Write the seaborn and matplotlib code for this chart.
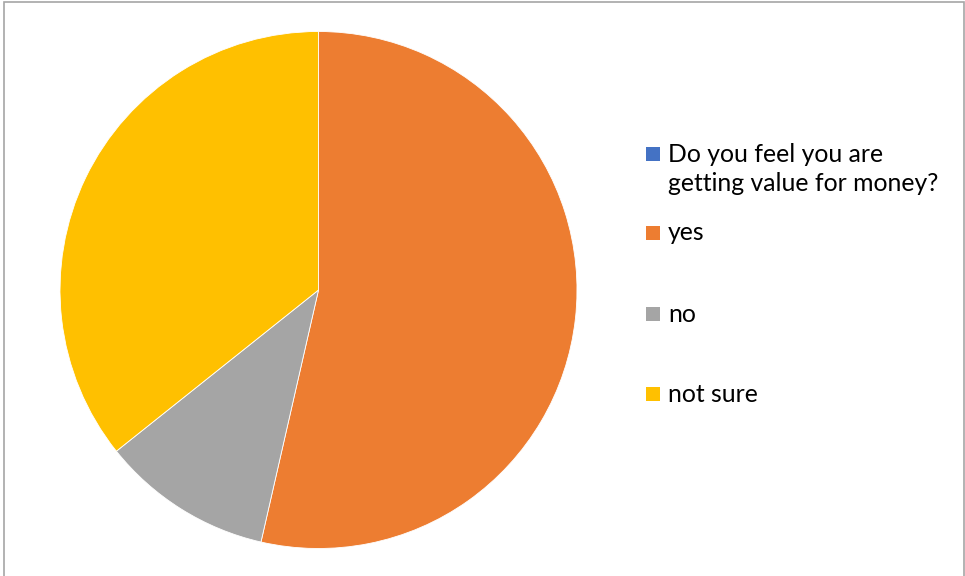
import matplotlib
matplotlib.use("Agg")
import matplotlib.pyplot as plt
from matplotlib.patches import Rectangle
import seaborn as sns

# Survey answers
categories = ["Do you feel you are\ngetting value for money?", "yes", "no", "not sure"]
counts = [0, 15, 3, 10]
colors = ["#4472C4", "#ED7D31", "#A5A5A5", "#FFC000"]

sns.set_theme(style="white")
plt.rcParams["font.family"] = ["Lato", "DejaVu Sans"]

W, H = 965, 576
fig = plt.figure(figsize=(W / 100, H / 100), dpi=100)

# pie occupies a square box on the left part of the canvas
cx, cy, r = 318.5, 290, 258.5
ax = fig.add_axes([(cx - r) / W, (H - cy - r) / H, 2 * r / W, 2 * r / H])
ax.pie(counts, colors=colors, startangle=90, counterclock=False,
       radius=1, wedgeprops=dict(edgecolor="white", linewidth=0.6))
ax.set_xlim(-1, 1)
ax.set_ylim(-1, 1)
ax.set_aspect("equal")
ax.axis("off")

# outer chart border
fig.add_artist(Rectangle((4 / W, -0.05), (964 - 4) / W, 1.05 - 2.5 / H,
                         transform=fig.transFigure, fill=False,
                         edgecolor="#A6A6A6", linewidth=1.2))

# legend entries: square marker + label (pixel rows, top-down);
# the label is anchored at its first line's top
marker_bottoms = [161, 240, 321, 401]
for label, col, yb in zip(categories, colors, marker_bottoms):
    fig.add_artist(Rectangle((646 / W, (H - yb) / H), 14 / W, 14 / H,
                             transform=fig.transFigure, facecolor=col,
                             edgecolor="none"))
    fig.text(668 / W, (H - yb + 18.5) / H, label, fontsize=17.8,
             color="#000000", ha="left", va="top", linespacing=1.32)

fig.savefig("out.png", dpi=100, facecolor="white")
